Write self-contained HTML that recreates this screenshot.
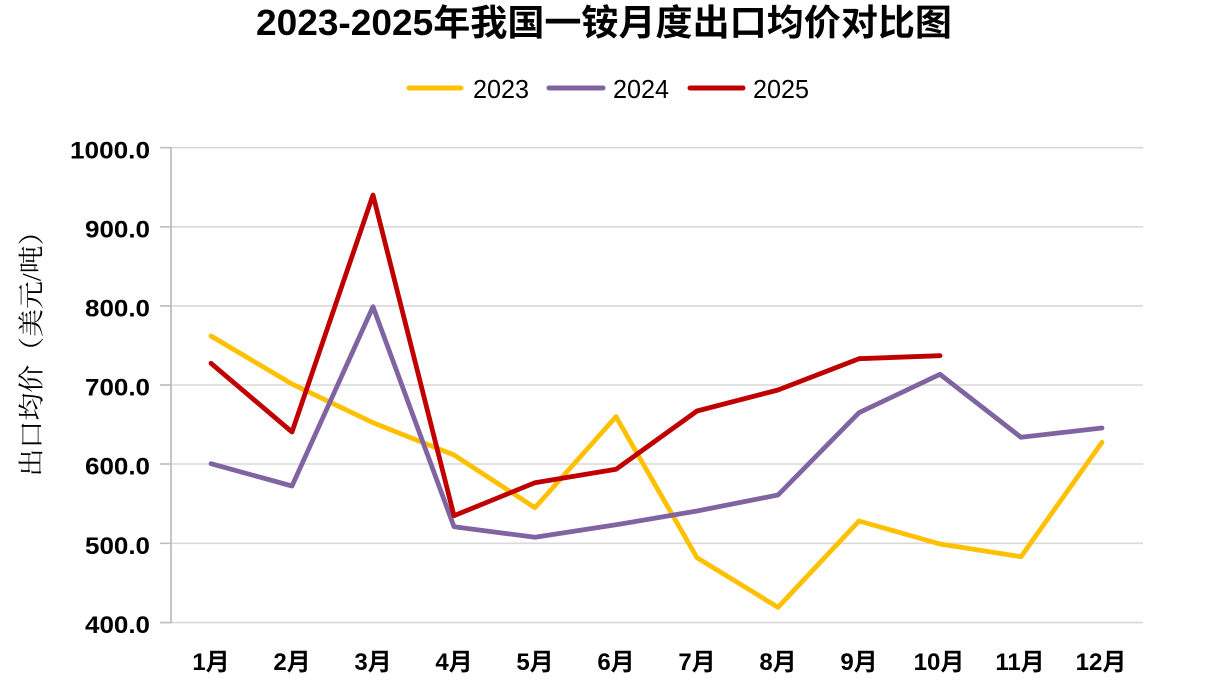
<!DOCTYPE html>
<html>
<head>
<meta charset="utf-8">
<style>
  html,body{margin:0;padding:0;background:#fff;}
  svg{display:block;}
  .cjk{font-family:"Liberation Sans","Noto Sans CJK SC",sans-serif;}
</style>
</head>
<body>
<svg width="1210" height="692" viewBox="0 0 1210 692" xmlns="http://www.w3.org/2000/svg">
  <rect width="1210" height="692" fill="#fff"/>
  <!-- Title -->
  <text x="256" y="35" class="cjk" font-size="36" font-weight="bold" fill="#000" textLength="696" lengthAdjust="spacingAndGlyphs">2023-2025年我国一铵月度出口均价对比图</text>

  <!-- Legend -->
  <g stroke-width="5" stroke-linecap="round">
    <line x1="409" y1="88" x2="461" y2="88" stroke="#FFC000"/>
    <line x1="549" y1="88" x2="603" y2="88" stroke="#8064A2"/>
    <line x1="690" y1="88" x2="743" y2="88" stroke="#C00000"/>
  </g>
  <g font-family="Liberation Sans, sans-serif" font-size="26" fill="#000">
    <text x="473" y="98" textLength="56" lengthAdjust="spacingAndGlyphs">2023</text>
    <text x="613" y="98" textLength="56" lengthAdjust="spacingAndGlyphs">2024</text>
    <text x="753" y="98" textLength="56" lengthAdjust="spacingAndGlyphs">2025</text>
  </g>

  <!-- Gridlines -->
  <g stroke="#d9d9d9" stroke-width="1.6">
    <line x1="160" y1="147.7" x2="1143" y2="147.7"/>
    <line x1="160" y1="226.8" x2="1143" y2="226.8"/>
    <line x1="160" y1="305.9" x2="1143" y2="305.9"/>
    <line x1="160" y1="385.0" x2="1143" y2="385.0"/>
    <line x1="160" y1="464.0" x2="1143" y2="464.0"/>
    <line x1="160" y1="543.3" x2="1143" y2="543.3"/>
    <line x1="160" y1="622.6" x2="1143" y2="622.6"/>
  </g>
  <!-- tick marks on y axis -->
  <g stroke="#bfbfbf" stroke-width="1.6">
    <line x1="160" y1="147.7" x2="171" y2="147.7"/>
    <line x1="160" y1="226.8" x2="171" y2="226.8"/>
    <line x1="160" y1="305.9" x2="171" y2="305.9"/>
    <line x1="160" y1="385.0" x2="171" y2="385.0"/>
    <line x1="160" y1="464.0" x2="171" y2="464.0"/>
    <line x1="160" y1="543.3" x2="171" y2="543.3"/>
    <line x1="160" y1="622.6" x2="171" y2="622.6"/>
  </g>
  <line x1="171" y1="147" x2="171" y2="623.5" stroke="#bfbfbf" stroke-width="1.8"/>

  <!-- Y labels -->
  <g font-family="Liberation Sans, sans-serif" font-size="24" font-weight="bold" fill="#000" text-anchor="end">
    <text x="150" y="158.3" textLength="80" lengthAdjust="spacingAndGlyphs">1000.0</text>
    <text x="150" y="237.4" textLength="65" lengthAdjust="spacingAndGlyphs">900.0</text>
    <text x="150" y="316.5" textLength="65" lengthAdjust="spacingAndGlyphs">800.0</text>
    <text x="150" y="395.6" textLength="65" lengthAdjust="spacingAndGlyphs">700.0</text>
    <text x="150" y="474.6" textLength="65" lengthAdjust="spacingAndGlyphs">600.0</text>
    <text x="150" y="553.9" textLength="65" lengthAdjust="spacingAndGlyphs">500.0</text>
    <text x="150" y="633.2" textLength="65" lengthAdjust="spacingAndGlyphs">400.0</text>
  </g>

  <!-- Y axis title -->
  <text transform="translate(32,347) rotate(-90)" text-anchor="middle" dominant-baseline="central" font-family="Liberation Serif, Noto Serif CJK SC, serif" font-size="26" fill="#000" textLength="259" lengthAdjust="spacingAndGlyphs">出口均价（美元/吨）</text>

  <!-- X labels -->
  <g class="cjk" font-size="24" font-weight="bold" fill="#000" text-anchor="middle">
    <text x="211" y="670">1月</text>
    <text x="292" y="670">2月</text>
    <text x="373" y="670">3月</text>
    <text x="454" y="670">4月</text>
    <text x="535" y="670">5月</text>
    <text x="616" y="670">6月</text>
    <text x="697" y="670">7月</text>
    <text x="778" y="670">8月</text>
    <text x="859" y="670">9月</text>
    <text x="939" y="670">10月</text>
    <text x="1020" y="670">11月</text>
    <text x="1101" y="670">12月</text>
  </g>

  <!-- Series -->
  <g fill="none" stroke-width="4.8" stroke-linejoin="round" stroke-linecap="round">
    <polyline stroke="#FFC000" points="211,336 292,384 373,422.7 454,455 535,507.7 616,416.7 697,557.7 778,607.3 859,521 940,544 1021,556.7 1102,442.3"/>
    <polyline stroke="#8064A2" points="211,463.7 292,486 373,306.7 454,526.7 535,537.3 616,524.8 697,511 778,495 859,412.7 940,374.3 1021,437.3 1102,428"/>
    <polyline stroke="#C00000" points="211,363.3 292,432 373,195 454,515.7 535,482.7 616,469.3 697,411 778,390 859,358.7 940,355.7"/>
  </g>
</svg>
</body>
</html>
